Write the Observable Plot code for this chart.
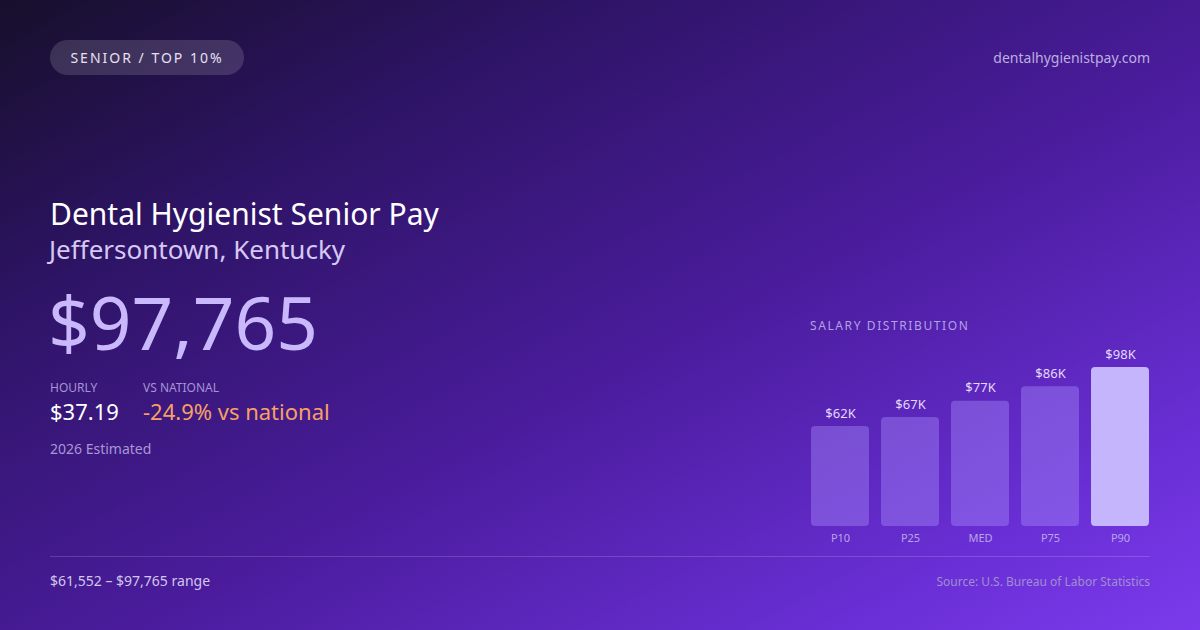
<!DOCTYPE html>
<html>
<head>
<meta charset="utf-8">
<script src="https://cdn.jsdelivr.net/npm/d3@7"></script>
<script src="https://cdn.jsdelivr.net/npm/@observablehq/plot@0.6"></script>
<style>
  html, body { margin: 0; padding: 0; }
  body { width: 1200px; height: 630px; overflow: hidden; font-family: "Noto Sans", sans-serif; }
  #card {
    position: relative; width: 1200px; height: 630px; overflow: hidden;
    background: linear-gradient(152deg, #170f2b 0%, #2e1466 25%, #4a1c9c 55%, #6a2fd6 85%, #7b3bec 100%);
  }
  .abs { position: absolute; white-space: nowrap; }
  #badge { left: 50px; top: 40px; width: 194px; height: 35px; border-radius: 18px; background: rgba(255,255,255,0.14);
    color: #e6e0f2; font-size: 14px; letter-spacing: 2px; line-height: 35px; text-align: center; }
  #site { right: 50px; top: 48px; font-size: 14px; color: #bcaee0; }
  #title { left: 50px; top: 193px; font-size: 30px; color: #ffffff; }
  #subtitle { left: 49px; top: 231px; font-size: 26px; color: #d6c8f3; }
  #big { left: 48px; top: 282px; font-size: 73px; color: #c9b8fb; line-height: 1.1; }
  .lab { font-size: 12px; color: #a793d6; top: 379px; }
  .val { font-size: 22px; top: 396px; }
  #est { left: 50px; top: 439px; font-size: 14px; color: #a996d6; }
  #dist { left: 810px; top: 317px; font-size: 12px; letter-spacing: 1.6px; color: #b3a0e6; }
  #rule { left: 50px; top: 556px; width: 1100px; height: 1px; background: rgba(255,255,255,0.16); }
  #range { left: 50px; top: 571px; font-size: 14px; color: #d3c6ef; }
  #src { right: 50px; top: 573px; font-size: 12px; color: #a08ed0; }
  #chart { left: 810px; top: 330px; }
</style>
</head>
<body>
<div id="card">
  <div class="abs" id="badge">SENIOR / TOP 10%</div>
  <div class="abs" id="site">dentalhygienistpay.com</div>
  <div class="abs" id="title">Dental Hygienist Senior Pay</div>
  <div class="abs" id="subtitle">Jeffersontown, Kentucky</div>
  <div class="abs" id="big">$97,765</div>
  <div class="abs lab" style="left:50px">HOURLY</div>
  <div class="abs lab" style="left:143px">VS NATIONAL</div>
  <div class="abs val" style="left:50px;color:#ffffff">$37.19</div>
  <div class="abs val" style="left:143px;color:#f7a065">-24.9% vs national</div>
  <div class="abs" id="est">2026 Estimated</div>
  <div class="abs" id="dist">SALARY DISTRIBUTION</div>
  <div class="abs" id="chart"></div>
  <div class="abs" id="rule"></div>
  <div class="abs" id="range">$61,552 – $97,765 range</div>
  <div class="abs" id="src">Source: U.S. Bureau of Labor Statistics</div>
</div>
<script>
const categories = ["P10", "P25", "MED", "P75", "P90"];
const salaries = [61552, 67000, 77000, 86000, 97765];
const valueLabels = ["$62K", "$67K", "$77K", "$86K", "$98K"];

const data = categories.map((c, i) => ({cat: c, v: salaries[i], label: valueLabels[i], top: c === "P90"}));

const chart = Plot.plot({
  width: 340,
  height: 220,
  marginLeft: 0,
  marginRight: 0,
  marginTop: 37,
  marginBottom: 24,
  style: {background: "transparent", fontFamily: "Noto Sans, sans-serif", overflow: "visible"},
  x: {domain: categories, paddingInner: 0.17, paddingOuter: 0, label: null},
  y: {domain: [0, d3.max(salaries)], axis: null},
  marks: [
    Plot.barY(data, {x: "cat", y: "v", fill: d => d.top ? "#c4b5fd" : "#a78bfa", fillOpacity: d => d.top ? 1 : 0.42, rx: 4}),
    Plot.text(data, {x: "cat", y: "v", text: "label", dy: -13, fill: "#e4dafc", fontSize: 13}),
    Plot.axisX({tickSize: 0, tickPadding: 8, fontSize: 11, color: "#b9a6ea", label: null})
  ]
});
document.getElementById("chart").appendChild(chart);
</script>
</body>
</html>
